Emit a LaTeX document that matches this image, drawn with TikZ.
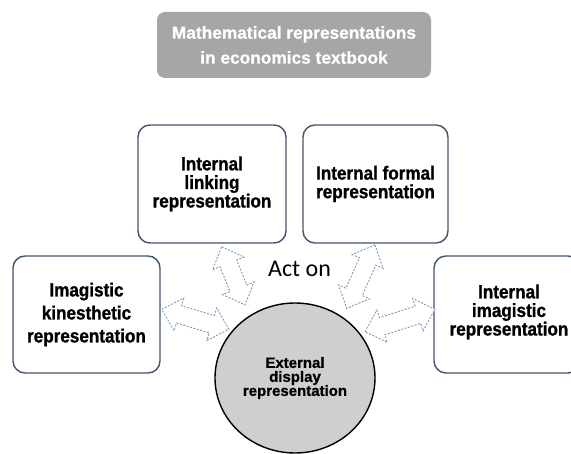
\documentclass[tikz,border=0pt]{standalone}
\usepackage{fontspec}
\setmainfont{Liberation Sans}
\newfontfamily\boxfont[FakeStretch=0.9, BoldFeatures={FakeBold=1}]{Liberation Sans}
\newfontfamily\plainfont[BoldFeatures={FakeBold=0.8}]{Liberation Sans}
\newfontfamily\actfont{Carlito}
\usetikzlibrary{shapes.geometric,calc}
\definecolor{boxline}{HTML}{44546A}
\definecolor{titlegray}{HTML}{A6A6A6}
\definecolor{circfill}{HTML}{D0CECE}
\definecolor{arrline}{HTML}{8497B0}
\tikzset{
  repbox/.style={draw=boxline, line width=1.4pt, rounded corners=12pt, fill=white,
    inner sep=0pt, align=center, font={\boxfont\bfseries\fontsize{19}{18.6}\selectfont}},
  titlebox/.style={fill=titlegray, rounded corners=8pt, inner sep=0pt, align=center,
    text=white, minimum width=274pt, minimum height=66pt,
    font={\plainfont\bfseries\fontsize{17.3}{25}\selectfont}},
  circnode/.style={ellipse, draw=black, line width=1.4pt, fill=circfill, inner sep=0pt,
    minimum width=160pt, minimum height=150pt, align=center,
    font={\plainfont\bfseries\fontsize{15}{14}\selectfont}},
  blockarrow/.style={draw=arrline, fill=white, line width=0.9pt, dash pattern=on 2pt off 1.5pt, line join=miter}
}
\newcommand\blockarr[2]{%
  \path[blockarrow] (#1)
   -- ($(#1)!18pt!(#2)!17pt!90:(#2)$)
   -- ($(#1)!18pt!(#2)!9pt!90:(#2)$)
   -- ($(#2)!18pt!(#1)!9pt!-90:(#1)$)
   -- ($(#2)!18pt!(#1)!17pt!-90:(#1)$)
   -- (#2)
   -- ($(#2)!18pt!(#1)!17pt!90:(#1)$)
   -- ($(#2)!18pt!(#1)!9pt!90:(#1)$)
   -- ($(#1)!18pt!(#2)!9pt!-90:(#2)$)
   -- ($(#1)!18pt!(#2)!17pt!-90:(#2)$)
   -- cycle;}
\begin{document}
\begin{tikzpicture}[x=1pt,y=-1pt]
\useasboundingbox (0,0) rectangle (571,454);
% title
\node[titlebox] (title) at (294,45) {Mathematical representations\\in economics textbook};
% boxes
\node[repbox, minimum width=148pt, minimum height=118pt] (link) at (212,184) {Internal\\linking\\representation};
\node[repbox, minimum width=145pt, minimum height=118pt] (formal) at (375.5,184) {Internal formal\\representation};
\node[repbox, minimum width=147pt, minimum height=117pt, font={\boxfont\bfseries\fontsize{19}{23}\selectfont}] (kin) at (86.5,314.5) {Imagistic\\kinesthetic\\representation};
\node[repbox, minimum width=146pt, minimum height=117pt] (img) at (507,314.5) {};
\node[inner sep=0pt, align=center, font={\boxfont\bfseries\fontsize{19}{18.6}\selectfont}] (imgtext) at (509,312) {Internal\\imagistic\\representation};
% circle
\node[circnode] (ext) at (295,378) {External\\display\\representation};
% act on
\node[anchor=base, inner sep=0pt, font={\actfont\fontsize{24}{28}\selectfont}] (act) at (299.5,277) {Act on};
% arrow end points
\coordinate (a1s) at (221.7,246.7);
\coordinate (a1e) at (245,305);
\coordinate (a2s) at (375,245);
\coordinate (a2e) at (346.7,308.3);
\coordinate (a3s) at (161.7,309.3);
\coordinate (a3e) at (229,329.3);
\coordinate (a4s) at (365,331.7);
\coordinate (a4e) at (435,309.3);
\blockarr{a1s}{a1e}
\blockarr{a2s}{a2e}
\blockarr{a3s}{a3e}
\blockarr{a4s}{a4e}
\end{tikzpicture}
\end{document}
